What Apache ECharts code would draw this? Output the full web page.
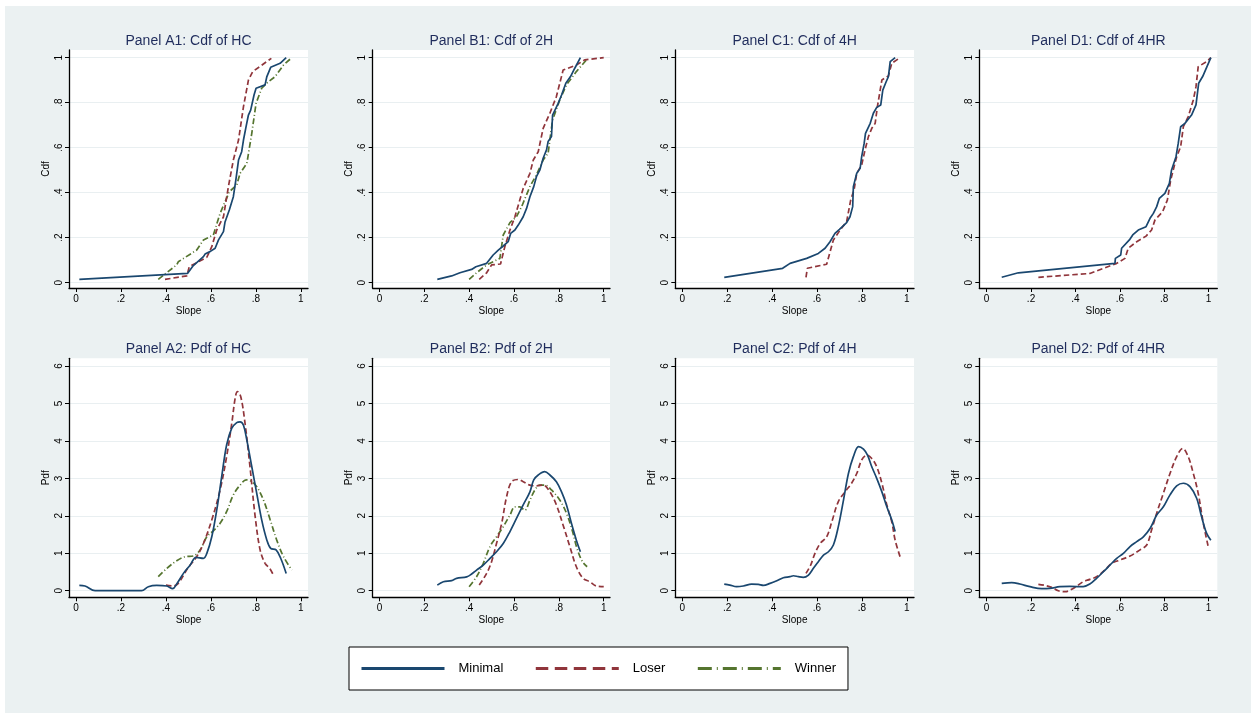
<!DOCTYPE html>
<html>
<head>
<meta charset="utf-8">
<script src="https://cdn.jsdelivr.net/npm/echarts@6/dist/echarts.min.js"></script>
<style>
html,body{margin:0;padding:0;background:#ffffff;}
#bg{position:absolute;left:5px;top:6px;width:1246px;height:707px;background:#ebf1f2;}
#chart{position:absolute;left:0;top:0;width:1251px;height:713px;}
</style>
</head>
<body>
<div id="bg"></div>
<div id="chart"></div>
<script>
// ---- tick values ----
const xTicks = [0, 0.2, 0.4, 0.6, 0.8, 1];
const cdfTicks = [0, 0.2, 0.4, 0.6, 0.8, 1];
const pdfTicks = [0, 1, 2, 3, 4, 5, 6];
const seriesNames = ['Minimal', 'Loser', 'Winner'];
const panelTitles = ['Panel A1: Cdf of HC', 'Panel B1: Cdf of 2H', 'Panel C1: Cdf of 4H', 'Panel D1: Cdf of 4HR',
                     'Panel A2: Pdf of HC', 'Panel B2: Pdf of 2H', 'Panel C2: Pdf of 4H', 'Panel D2: Pdf of 4HR'];

// ---- Panel A1: Cdf of HC ----
const cdfHC_Minimal = [[0.015,0.015],[0.496,0.041],[0.522,0.076],[0.567,0.116],[0.574,0.127],[0.596,0.138],[0.619,0.153],[0.634,0.19],[0.656,0.227],[0.663,0.27],[0.682,0.323],[0.7,0.382],[0.711,0.456],[0.723,0.545],[0.737,0.582],[0.745,0.634],[0.757,0.696],[0.767,0.745],[0.777,0.767],[0.792,0.834],[0.801,0.864],[0.841,0.879],[0.849,0.916],[0.866,0.957],[0.908,0.975],[0.935,1.0]];
const cdfHC_Loser = [[0.396,0.015],[0.493,0.03],[0.504,0.071],[0.582,0.113],[0.604,0.16],[0.626,0.234],[0.656,0.293],[0.678,0.427],[0.7,0.545],[0.723,0.634],[0.745,0.782],[0.767,0.9],[0.786,0.938],[0.869,0.997]];
const cdfHC_Winner = [[0.366,0.015],[0.448,0.079],[0.455,0.093],[0.537,0.145],[0.567,0.19],[0.611,0.212],[0.641,0.308],[0.682,0.404],[0.715,0.434],[0.73,0.486],[0.76,0.53],[0.782,0.664],[0.801,0.797],[0.826,0.864],[0.856,0.893],[0.886,0.916],[0.923,0.967],[0.96,1.0]];

// ---- Panel B1: Cdf of 2H ----
const cdf2H_Minimal = [[0.258,0.015],[0.322,0.03],[0.359,0.044],[0.411,0.059],[0.43,0.071],[0.478,0.086],[0.507,0.123],[0.53,0.145],[0.552,0.163],[0.574,0.182],[0.585,0.219],[0.604,0.234],[0.619,0.256],[0.641,0.293],[0.656,0.33],[0.671,0.382],[0.688,0.427],[0.7,0.471],[0.715,0.5],[0.73,0.553],[0.745,0.59],[0.752,0.627],[0.767,0.649],[0.772,0.745],[0.797,0.797],[0.812,0.834],[0.831,0.886],[0.852,0.916],[0.871,0.953],[0.896,1.0]];
const cdf2H_Loser = [[0.445,0.015],[0.478,0.044],[0.5,0.079],[0.54,0.083],[0.559,0.16],[0.582,0.234],[0.604,0.293],[0.641,0.419],[0.671,0.486],[0.686,0.545],[0.708,0.582],[0.73,0.686],[0.76,0.753],[0.789,0.827],[0.819,0.945],[0.878,0.967],[0.915,0.99],[1.0,1.0]];
const cdf2H_Winner = [[0.4,0.015],[0.433,0.044],[0.478,0.079],[0.537,0.108],[0.552,0.212],[0.582,0.267],[0.611,0.293],[0.634,0.338],[0.671,0.427],[0.7,0.479],[0.73,0.545],[0.752,0.575],[0.772,0.723],[0.804,0.812],[0.834,0.879],[0.878,0.938],[0.923,0.99]];

// ---- Panel C1: Cdf of 4H ----
const cdf4H_Minimal = [[0.187,0.024],[0.447,0.064],[0.48,0.086],[0.554,0.108],[0.606,0.13],[0.636,0.153],[0.658,0.182],[0.68,0.219],[0.7,0.237],[0.732,0.267],[0.747,0.293],[0.759,0.338],[0.762,0.427],[0.777,0.486],[0.792,0.508],[0.799,0.56],[0.81,0.619],[0.816,0.664],[0.837,0.708],[0.851,0.753],[0.866,0.779],[0.884,0.79],[0.893,0.856],[0.908,0.893],[0.918,0.916],[0.926,0.982],[0.948,1.0]];
const cdf4H_Loser = [[0.551,0.024],[0.557,0.064],[0.643,0.082],[0.673,0.19],[0.703,0.234],[0.732,0.271],[0.75,0.367],[0.765,0.412],[0.777,0.486],[0.799,0.523],[0.814,0.59],[0.829,0.649],[0.844,0.686],[0.859,0.708],[0.869,0.782],[0.889,0.901],[0.918,0.919],[0.933,0.975],[0.97,1.0]];

// ---- Panel D1: Cdf of 4HR ----
const cdf4HR_Minimal = [[0.068,0.024],[0.143,0.044],[0.578,0.086],[0.58,0.108],[0.604,0.123],[0.608,0.153],[0.643,0.19],[0.658,0.212],[0.683,0.234],[0.718,0.249],[0.736,0.286],[0.751,0.308],[0.766,0.338],[0.778,0.375],[0.803,0.397],[0.823,0.441],[0.833,0.501],[0.853,0.56],[0.863,0.619],[0.874,0.693],[0.893,0.708],[0.923,0.745],[0.943,0.79],[0.955,0.886],[0.973,0.916],[1.01,1.0]];
const cdf4HR_Loser = [[0.233,0.024],[0.465,0.041],[0.586,0.086],[0.623,0.108],[0.638,0.153],[0.676,0.182],[0.718,0.207],[0.743,0.234],[0.758,0.278],[0.793,0.316],[0.814,0.367],[0.829,0.456],[0.856,0.56],[0.874,0.604],[0.886,0.693],[0.908,0.738],[0.931,0.812],[0.943,0.871],[0.953,0.96],[0.991,0.982],[1.01,1.0]];

// ---- Panel A2: Pdf of HC ----
const pdfHC_Minimal = [[0.015,0.14],[0.04,0.125],[0.085,0],[0.292,0],[0.322,0.107],[0.359,0.142],[0.404,0.125],[0.43,0.053],[0.448,0.178],[0.478,0.463],[0.508,0.686],[0.534,0.89],[0.567,0.863],[0.582,0.997],[0.604,1.44],[0.626,2.15],[0.648,3.04],[0.67,3.89],[0.693,4.34],[0.715,4.49],[0.73,4.51],[0.745,4.42],[0.76,4.02],[0.782,3.31],[0.804,2.6],[0.826,1.89],[0.849,1.35],[0.866,1.13],[0.89,1.09],[0.911,0.86],[0.935,0.46]];
const pdfHC_Loser = [[0.4,0.15],[0.433,0.125],[0.455,0.196],[0.497,0.597],[0.537,0.908],[0.567,1.26],[0.604,1.89],[0.641,2.69],[0.67,3.58],[0.693,4.47],[0.708,5.14],[0.718,5.32],[0.733,5.18],[0.752,4.47],[0.774,3.31],[0.797,1.98],[0.819,1.09],[0.841,0.73],[0.861,0.6],[0.878,0.42]];
const pdfHC_Winner = [[0.366,0.374],[0.404,0.597],[0.448,0.8],[0.485,0.908],[0.522,0.926],[0.552,1.09],[0.582,1.44],[0.611,1.6],[0.641,1.8],[0.67,2.11],[0.7,2.56],[0.73,2.82],[0.757,2.96],[0.782,2.91],[0.804,2.78],[0.834,2.42],[0.864,1.89],[0.893,1.35],[0.923,0.91],[0.96,0.55]];

// ---- Panel B2: Pdf of 2H ----
const pdf2H_Minimal = [[0.258,0.15],[0.285,0.24],[0.322,0.27],[0.344,0.33],[0.389,0.37],[0.411,0.445],[0.433,0.55],[0.463,0.686],[0.493,0.864],[0.522,1.04],[0.552,1.26],[0.582,1.58],[0.611,1.93],[0.641,2.29],[0.671,2.64],[0.688,2.96],[0.708,3.09],[0.737,3.18],[0.76,3.09],[0.789,2.91],[0.812,2.64],[0.834,2.29],[0.856,1.8],[0.878,1.35],[0.896,1.04]];
const pdf2H_Loser = [[0.445,0.15],[0.478,0.463],[0.5,0.775],[0.522,1.26],[0.545,1.8],[0.567,2.51],[0.589,2.91],[0.619,2.97],[0.641,2.91],[0.671,2.82],[0.7,2.8],[0.73,2.82],[0.76,2.64],[0.789,2.29],[0.819,1.75],[0.849,1.18],[0.878,0.64],[0.908,0.33],[0.938,0.24],[0.967,0.125],[1.0,0.107]];
const pdf2H_Winner = [[0.4,0.107],[0.433,0.374],[0.463,0.73],[0.493,1.18],[0.522,1.44],[0.552,1.71],[0.582,2.02],[0.604,2.24],[0.626,2.24],[0.648,2.15],[0.671,2.42],[0.693,2.69],[0.715,2.82],[0.737,2.82],[0.767,2.69],[0.804,2.42],[0.834,2.07],[0.861,1.58],[0.881,1.13],[0.905,0.775],[0.926,0.64]];

// ---- Panel C2: Pdf of 4H ----
const pdf4H_Minimal = [[0.187,0.178],[0.212,0.15],[0.242,0.107],[0.272,0.125],[0.309,0.178],[0.339,0.17],[0.361,0.142],[0.391,0.196],[0.421,0.267],[0.45,0.347],[0.48,0.374],[0.495,0.4],[0.517,0.374],[0.539,0.356],[0.562,0.419],[0.584,0.597],[0.606,0.775],[0.629,0.953],[0.651,1.04],[0.673,1.22],[0.695,1.71],[0.718,2.42],[0.74,3.13],[0.762,3.58],[0.785,3.85],[0.807,3.78],[0.825,3.62],[0.844,3.31],[0.866,3.0],[0.889,2.64],[0.911,2.24],[0.933,1.89],[0.948,1.58]];
const pdf4H_Loser = [[0.551,0.463],[0.572,0.686],[0.591,0.997],[0.614,1.26],[0.643,1.44],[0.666,1.84],[0.695,2.38],[0.725,2.64],[0.754,2.87],[0.777,3.13],[0.799,3.49],[0.822,3.62],[0.844,3.53],[0.866,3.31],[0.889,2.87],[0.911,2.29],[0.933,1.84],[0.948,1.35],[0.97,0.908]];

// ---- Panel D2: Pdf of 4HR ----
const pdf4HR_Minimal = [[0.068,0.196],[0.113,0.214],[0.15,0.178],[0.195,0.107],[0.248,0.053],[0.285,0.062],[0.33,0.107],[0.375,0.116],[0.435,0.107],[0.465,0.178],[0.495,0.33],[0.526,0.507],[0.556,0.686],[0.586,0.864],[0.616,0.997],[0.646,1.18],[0.676,1.31],[0.706,1.44],[0.736,1.66],[0.766,2.02],[0.796,2.24],[0.826,2.56],[0.856,2.8],[0.886,2.87],[0.916,2.78],[0.946,2.47],[0.968,1.98],[0.991,1.53],[1.01,1.35]];
const pdf4HR_Loser = [[0.233,0.17],[0.263,0.142],[0.293,0.089],[0.323,0],[0.353,-0.027],[0.39,0.062],[0.435,0.24],[0.465,0.303],[0.495,0.374],[0.533,0.552],[0.563,0.73],[0.6,0.82],[0.646,0.926],[0.691,1.09],[0.721,1.22],[0.743,1.62],[0.766,2.07],[0.796,2.6],[0.826,3.13],[0.856,3.58],[0.883,3.8],[0.908,3.58],[0.931,3.13],[0.953,2.6],[0.976,1.8],[0.998,1.18]];

const panelData = [
  [cdfHC_Minimal, cdfHC_Loser, cdfHC_Winner],
  [cdf2H_Minimal, cdf2H_Loser, cdf2H_Winner],
  [cdf4H_Minimal, cdf4H_Loser, null],
  [cdf4HR_Minimal, cdf4HR_Loser, null],
  [pdfHC_Minimal, pdfHC_Loser, pdfHC_Winner],
  [pdf2H_Minimal, pdf2H_Loser, pdf2H_Winner],
  [pdf4H_Minimal, pdf4H_Loser, null],
  [pdf4HR_Minimal, pdf4HR_Loser, null]
];

// ---- layout / style ----
const colLeft = [69, 372.7, 675.3, 979.3];
const colWidth = [239, 237.3, 238.7, 238];
const colXRange = [[-0.031, 1.032], [-0.03, 1.028], [-0.031, 1.032], [-0.033, 1.039]];
const rowTop = [50, 358.3];
const rowHeight = [238, 239];
const rowYRange = [[-0.0236, 1.034], [-0.176, 6.206]];
const titleY = [33, 341.5];
const colors = ['#1a476f', '#90353b', '#55752f'];
const dashes = ['solid', [5.5, 3], [6, 2.5, 1, 2.5]];
const FONT = 'Liberation Sans, Arial, Helvetica, sans-serif';

function fmt(v) {
  if (v === 0) return '0';
  if (Number.isInteger(v)) return String(v);
  return String(+v.toFixed(2)).replace(/^0/, '');
}

const grids = [], xAxes = [], yAxes = [], series = [], titles = [];
for (let p = 0; p < 8; p++) {
  const row = p < 4 ? 0 : 1, col = p % 4;
  grids.push({left: colLeft[col], top: rowTop[row], width: colWidth[col], height: rowHeight[row],
    show: true, backgroundColor: '#ffffff', borderWidth: 0, containLabel: false});
  const tickStyle = {show: true, length: 4, lineStyle: {color: '#000', width: 1}};
  xAxes.push({type: 'value', gridIndex: p, min: colXRange[col][0], max: colXRange[col][1],
    name: 'Slope', nameLocation: 'middle', nameGap: 18,
    nameTextStyle: {fontFamily: FONT, fontSize: 10, color: '#000'},
    axisLine: {show: true, onZero: false, lineStyle: {color: '#000', width: 1.3}},
    axisTick: Object.assign({customValues: xTicks}, tickStyle),
    axisLabel: {customValues: xTicks, formatter: fmt, margin: 6, fontFamily: FONT, fontSize: 10, color: '#000'},
    splitLine: {show: false}});
  const yT = row === 0 ? cdfTicks : pdfTicks;
  yAxes.push({type: 'value', gridIndex: p, min: rowYRange[row][0], max: rowYRange[row][1],
    name: row === 0 ? 'Cdf' : 'Pdf', nameLocation: 'middle', nameGap: 18, nameRotate: 90,
    nameTextStyle: {fontFamily: FONT, fontSize: 10, color: '#000'},
    axisLine: {show: true, onZero: false, lineStyle: {color: '#000', width: 1.3}},
    axisTick: Object.assign({customValues: yT}, tickStyle),
    axisLabel: {customValues: yT, formatter: fmt, rotate: 90, margin: 5, fontFamily: FONT, fontSize: 10, color: '#000'},
    splitLine: {show: true, lineStyle: {color: '#e9eff1', width: 1}}});
  titles.push({text: panelTitles[p], left: colLeft[col] + colWidth[col] / 2, top: titleY[row], textAlign: 'center', padding: 0,
    textStyle: {fontFamily: FONT, fontSize: 14, fontWeight: 'normal', color: '#1f2c5c', lineHeight: 16}});
  panelData[p].forEach((d, s) => {
    if (!d) return;
    series.push({type: 'line', name: seriesNames[s], xAxisIndex: p, yAxisIndex: p, data: d,
      showSymbol: false, symbol: 'none', smooth: row === 1 ? 0.35 : false, silent: true, animation: false,
      lineStyle: {color: colors[s], width: 1.7, type: dashes[s]}, itemStyle: {color: colors[s]}, z: 5 - s});
  });
}

const legendDash = ['solid', [12.5, 6.5], [14, 5, 1, 5]];
const chart = echarts.init(document.getElementById('chart'), null, {renderer: 'canvas'});
chart.setOption({
  backgroundColor: 'transparent',
  animation: false,
  title: titles,
  grid: grids, xAxis: xAxes, yAxis: yAxes, series: series,
  legend: {show: true, left: 349, top: 647, orient: 'horizontal', itemWidth: 83, itemHeight: 14, itemGap: 31,
    padding: [15, 12, 15, 11], backgroundColor: '#ffffff', borderColor: '#000', borderWidth: 1, borderRadius: 0,
    selectedMode: false,
    textStyle: {fontFamily: FONT, fontSize: 13, color: '#000', padding: [0, 0, 0, 9]},
    data: seriesNames.map((n, i) => ({name: n,
      itemStyle: {opacity: 0, borderWidth: 0},
      lineStyle: {color: colors[i], width: 3, type: legendDash[i]}}))
  }
});
</script>
</body>
</html>
